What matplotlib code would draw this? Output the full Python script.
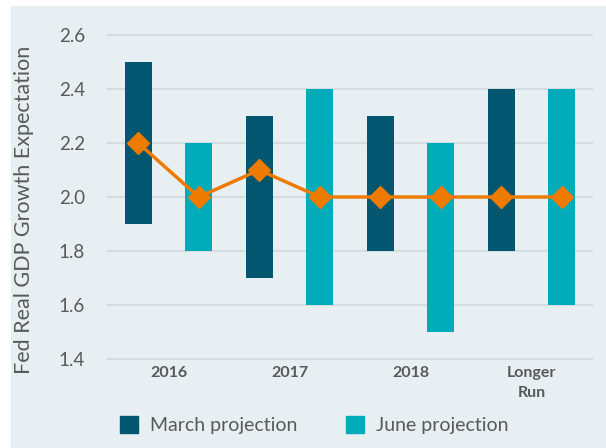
import matplotlib
matplotlib.use('Agg')
import matplotlib.pyplot as plt
from matplotlib.patches import Patch, Rectangle

# ── data ──────────────────────────────────────────────────────────────────────
groups = ['2016', '2017', '2018', 'Longer\nRun']
march_low = [1.9, 1.7, 1.8, 1.8]
march_high = [2.5, 2.3, 2.3, 2.4]
june_low = [1.8, 1.6, 1.5, 1.6]
june_high = [2.2, 2.4, 2.2, 2.4]
march_median = [2.2, 2.1, 2.0, 2.0]
june_median = [2.0, 2.0, 2.0, 2.0]
yticks = [1.4, 1.6, 1.8, 2.0, 2.2, 2.4, 2.6]

# ── style ─────────────────────────────────────────────────────────────────────
PANEL = '#e7eff2'
C_MAR = '#02566f'
C_JUN = '#00abba'
C_MED = '#ee7a00'
GREY = '#595959'
plt.rcParams['font.family'] = ['Lato', 'DejaVu Sans']

fig = plt.figure(figsize=(6.06, 4.48), dpi=100)
fig.patches.append(Rectangle((11 / 606, 0), 1, 1 - 6 / 448, transform=fig.transFigure,
                             facecolor=PANEL, edgecolor='none', zorder=-10))
ax = fig.add_axes([108 / 606, 89 / 448, 484 / 606, 324 / 448])
ax.set_facecolor('none')

# slots: March on even positions, June on odd
xm = [2 * i for i in range(len(groups))]
xj = [2 * i + 1 for i in range(len(groups))]
w = 0.45
ax.bar(xm, [h - l for h, l in zip(march_high, march_low)], bottom=march_low,
       width=w, color=C_MAR, zorder=2)
ax.bar(xj, [h - l for h, l in zip(june_high, june_low)], bottom=june_low,
       width=w, color=C_JUN, zorder=2)

xs, meds = [], []
for i in range(len(groups)):
    xs += [xm[i], xj[i]]
    meds += [march_median[i], june_median[i]]
ax.plot(xs, meds, '-', color=C_MED, lw=2.5, marker='D', ms=11, zorder=3)

ax.set_xlim(-0.5, 2 * len(groups) - 0.5)
ax.set_ylim(1.4, 2.6)
ax.set_yticks(yticks)
ax.set_yticklabels([f'{v:.1f}' for v in yticks], fontsize=13.5, color=GREY)
ax.set_xticks([2 * i + 0.5 for i in range(len(groups))])
ax.set_xticklabels(groups, fontsize=11.5, fontweight='bold', color=GREY,
                   linespacing=1.55, va='top')
ax.tick_params(length=0, axis='y', pad=16.5)
ax.tick_params(length=0, axis='x', pad=5)
for s in ax.spines.values():
    s.set_visible(False)
ax.yaxis.grid(True, color='#d3dce0', lw=1.5)
for gl in ax.yaxis.get_gridlines():
    gl.set_clip_on(False)
ax.set_axisbelow(True)
ax.set_ylabel('Fed Real GDP Growth Expectation', fontsize=15.5, color=GREY)
ax.yaxis.set_label_coords((34 - 108) / 484, (359 - 210) / 324)

handles = [Patch(color=C_MAR), Patch(color=C_JUN)]
fig.legend(handles, ['March projection', 'June projection'], loc='center',
           bbox_to_anchor=(314 / 606, 1 - 425 / 448), ncol=2, frameon=False,
           fontsize=14, labelcolor=GREY, handlelength=0.95, handleheight=0.95,
           handletextpad=0.6, columnspacing=2.5)

fig.savefig('out.png', dpi=100)
